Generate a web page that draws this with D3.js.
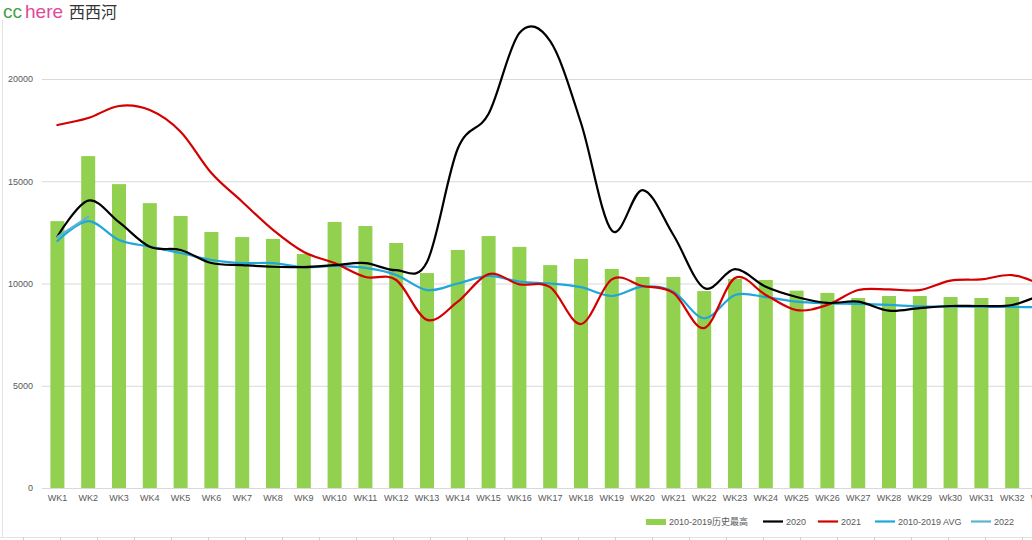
<!DOCTYPE html>
<html>
<head>
<meta charset="utf-8">
<script src="https://cdn.jsdelivr.net/npm/d3@7"></script>
<style>
  html, body { margin: 0; padding: 0; background: #fff; }
  svg { display: block; }
</style>
</head>
<body>
<svg id="chart" width="1032" height="540"></svg>
<script>
const categories = ["WK1","WK2","WK3","WK4","WK5","WK6","WK7","WK8","WK9","WK10","WK11","WK12","WK13","WK14","WK15","WK16","WK17","WK18","WK19","WK20","WK21","WK22","WK23","WK24","WK25","WK26","WK27","WK28","WK29","Wk30","WK31","WK32","WK33"];
const histMax = [13050,16230,14860,13930,13300,12520,12270,12180,11440,13010,12810,11980,10510,11640,12320,11790,10900,11200,10710,10320,10320,9630,10220,10170,9650,9540,9290,9390,9390,9340,9290,9340,9300];
const y2020 = [12300,14050,13000,11800,11640,11000,10900,10820,10800,10900,11000,10650,11050,16600,18300,22250,21850,17850,12590,14570,12370,9780,10700,9840,9340,9050,9110,8670,8800,8900,8900,8950,9500];
const y2021 = [17750,18090,18680,18480,17420,15400,14000,12620,11540,11000,10320,10170,8220,9110,10460,9960,9820,8020,10200,9880,9540,7820,10270,9440,8700,8950,9680,9710,9680,10140,10200,10410,9900];
const avg = [12080,13050,12130,11800,11490,11150,11000,11000,10800,10860,10760,10420,9680,10000,10370,10090,10000,9820,9390,9850,9600,8300,9440,9330,9110,9030,9000,8950,8880,8870,8860,8850,8850];
const y2022 = [12280,13260];
const yTicks = [0,5000,10000,15000,20000];
const legendLabels = ["2010-2019历史最高","2020","2021","2010-2019 AVG","2022"];

const svg = d3.select("#chart");
const font = "'Liberation Sans', Arial, 'Noto Sans CJK SC', sans-serif";
const textCol = "#595959";

// spreadsheet cell borders (background)
const bg = svg.append("g");
bg.append("line").attr("x1",2.5).attr("x2",2.5).attr("y1",20).attr("y2",537)
  .attr("stroke","#e3e3e3").attr("stroke-width",1);
bg.append("line").attr("x1",0).attr("x2",1032).attr("y1",537.5).attr("y2",537.5)
  .attr("stroke","#e3e3e3").attr("stroke-width",1);
bg.selectAll(".cell").data(d3.range(23, 1032, 37)).join("line")
  .attr("x1", d => d + 0.5).attr("x2", d => d + 0.5).attr("y1", 537).attr("y2", 540)
  .attr("stroke","#cfcfcf");

const step = 30.8;
const x0 = 42;
const x = d3.scaleBand().domain(categories)
  .range([x0, x0 + step * categories.length])
  .paddingInner(0.545).paddingOuter(0.2725);
const cx = d => x(d) + x.bandwidth() / 2;
const y = d3.scaleLinear().domain([0, 20000]).range([488, 79]);

// gridlines
const yAxis = d3.axisLeft(y).tickValues(yTicks).tickFormat(d3.format("d"))
  .tickSize(-(1032 - x0)).tickPadding(9);
const gy = svg.append("g").attr("transform", `translate(${x0},0)`).call(yAxis);
gy.select(".domain").remove();
gy.selectAll(".tick line").attr("stroke", "#d9d9d9").attr("stroke-width", 1);
gy.selectAll(".tick text").attr("font-family", font).attr("font-size", 9).attr("fill", textCol);

// x axis
const xAxis = d3.axisBottom(x).tickSize(0).tickPadding(7);
const gx = svg.append("g").attr("transform", "translate(0,488)").call(xAxis);
gx.select(".domain").attr("stroke", "#d9d9d9");
gx.selectAll(".tick text").attr("font-family", font).attr("font-size", 9).attr("fill", textCol);

// bars
svg.append("g").selectAll("rect").data(categories).join("rect")
  .attr("x", d => x(d))
  .attr("width", x.bandwidth())
  .attr("y", (d, i) => y(histMax[i]))
  .attr("height", (d, i) => y(0) - y(histMax[i]))
  .attr("fill", "#92D050");

const line = d3.line().x(d => cx(d[0])).y(d => y(d[1])).curve(d3.curveCatmullRom.alpha(0));
const series = [
  { vals: avg, color: "#1FA6DA" },
  { vals: y2021, color: "#D40000" },
  { vals: y2020, color: "#000000" },
  { vals: y2022, color: "#5BB4D2" }
];
series.forEach(s => {
  svg.append("path")
    .datum(s.vals.map((v, i) => [categories[i], v]))
    .attr("d", line)
    .attr("fill", "none")
    .attr("stroke", s.color)
    .attr("stroke-width", 2.2)
    .attr("stroke-linejoin", "round")
    .attr("stroke-linecap", "round");
});

// legend
const lg = svg.append("g").attr("font-family", font).attr("font-size", 9).attr("fill", textCol);
const legendItems = [
  { label: legendLabels[0], type: "rect", color: "#92D050", x: 646 },
  { label: legendLabels[1], type: "line", color: "#000000", x: 763 },
  { label: legendLabels[2], type: "line", color: "#D40000", x: 818 },
  { label: legendLabels[3], type: "line", color: "#1FA6DA", x: 875 },
  { label: legendLabels[4], type: "line", color: "#5BB4D2", x: 971 }
];
legendItems.forEach(it => {
  if (it.type === "rect") {
    lg.append("rect").attr("x", it.x).attr("y", 519).attr("width", 20).attr("height", 6).attr("fill", it.color);
  } else {
    lg.append("line").attr("x1", it.x).attr("x2", it.x + 20).attr("y1", 521.5).attr("y2", 521.5)
      .attr("stroke", it.color).attr("stroke-width", 2.2);
  }
  lg.append("text").attr("x", it.x + 23).attr("y", 525).text(it.label);
});

// title
const t = svg.append("text").attr("x", 3).attr("y", 18).attr("font-size", 19)
  .attr("font-family", "'Liberation Sans', Arial, sans-serif");
t.append("tspan").attr("fill", "#46A046").text("cc");
t.append("tspan").attr("fill", "#E0489C").attr("dx", 3).text("here");
t.append("tspan").attr("fill", "#333333").attr("dx", 6).attr("font-size", 16)
  .attr("font-family", "'Noto Sans CJK SC', sans-serif").text("西西河");
</script>
</body>
</html>
